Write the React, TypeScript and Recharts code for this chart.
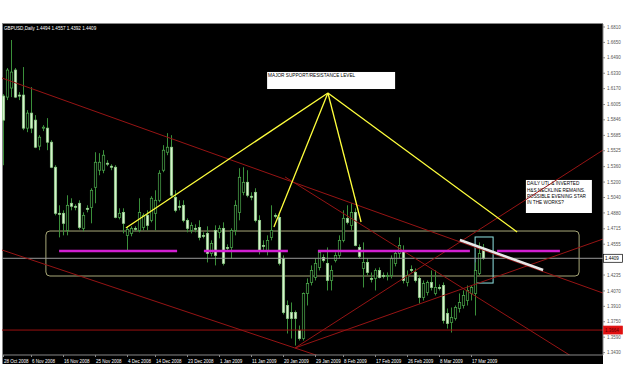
import { ComposedChart, Bar, XAxis, YAxis, ReferenceLine, ReferenceArea, ReferenceDot } from "recharts"

// GBPUSD daily candles
const open = [
  1.6093, 1.6082, 1.6176, 1.6363, 1.6103, 1.6103, 1.576, 1.5916, 1.5843, 1.5573,
  1.576, 1.576, 1.5614, 1.5354, 1.4876, 1.4876, 1.4699, 1.498, 1.4949, 1.498,
  1.472, 1.4928, 1.4938, 1.5146, 1.5323, 1.5323, 1.5396, 1.5365, 1.5354, 1.4834,
  1.4886, 1.4647, 1.4668, 1.472, 1.4699, 1.473, 1.4855, 1.4803, 1.4876, 1.5011,
  1.5323, 1.551, 1.5562, 1.5042, 1.4949, 1.4959, 1.4803, 1.4699, 1.472, 1.473,
  1.4647, 1.4668, 1.446, 1.4699, 1.4678, 1.472, 1.4522, 1.4522, 1.4699, 1.4886,
  1.5094, 1.5198, 1.5053, 1.5094, 1.4803, 1.4543, 1.4491, 1.4626, 1.4855, 1.4834,
  1.4408, 1.3919, 1.3846, 1.3846, 1.3659, 1.3576, 1.4044, 1.4158, 1.421, 1.4314,
  1.4418, 1.4356, 1.4179, 1.4387, 1.4439, 1.4595, 1.4824, 1.4751, 1.4886, 1.4522,
  1.4304, 1.4366, 1.42, 1.42, 1.4283, 1.4231, 1.4221, 1.4231, 1.4356, 1.446,
  1.4491, 1.4158, 1.4293, 1.4262, 1.42, 1.4002, 1.4054, 1.4158, 1.4044, 1.4106,
  1.4127, 1.3836, 1.3742, 1.3784, 1.3888, 1.3919, 1.3971, 1.4044, 1.4044, 1.4252,
  1.4494,
]
const high = [
  1.6113, 1.6384, 1.6675, 1.6384, 1.6134, 1.6394, 1.5947, 1.6186, 1.5895, 1.5687,
  1.5791, 1.5864, 1.5635, 1.5375, 1.4959, 1.4907, 1.5063, 1.5032, 1.4969, 1.5011,
  1.4886, 1.4959, 1.5136, 1.551, 1.55, 1.5531, 1.5427, 1.5385, 1.5375, 1.4928,
  1.4928, 1.4741, 1.4741, 1.4741, 1.5032, 1.4876, 1.4907, 1.5053, 1.5115, 1.5323,
  1.5583, 1.5708, 1.5687, 1.5115, 1.5011, 1.5011, 1.4824, 1.4782, 1.4761, 1.4803,
  1.4678, 1.4741, 1.4595, 1.4751, 1.4751, 1.4782, 1.4553, 1.472, 1.5011, 1.5344,
  1.5354, 1.5323, 1.5094, 1.5136, 1.4855, 1.4595, 1.4647, 1.4959, 1.4876, 1.4865,
  1.4439, 1.3971, 1.395, 1.3867, 1.3711, 1.4054, 1.42, 1.4335, 1.4408, 1.4491,
  1.4449, 1.4522, 1.4335, 1.447, 1.4647, 1.4907, 1.4959, 1.498, 1.4928, 1.4553,
  1.4574, 1.4408, 1.4262, 1.4304, 1.4314, 1.4262, 1.4262, 1.4439, 1.4491, 1.4626,
  1.4543, 1.4283, 1.4335, 1.4304, 1.4231, 1.4179, 1.4179, 1.4283, 1.4283, 1.4137,
  1.4158, 1.3888, 1.3898, 1.3919, 1.4044, 1.4075, 1.4127, 1.4127, 1.4366, 1.4574,
  1.4557,
]
const low = [
  1.5375, 1.6051, 1.6082, 1.6072, 1.6051, 1.5739, 1.5718, 1.5708, 1.5552, 1.5531,
  1.5729, 1.5531, 1.5344, 1.4855, 1.4626, 1.4647, 1.4647, 1.4907, 1.4907, 1.4709,
  1.4689, 1.4886, 1.4772, 1.498, 1.5271, 1.5292, 1.5365, 1.5323, 1.4824, 1.4813,
  1.4668, 1.4491, 1.4637, 1.4689, 1.4678, 1.4699, 1.4699, 1.4782, 1.4699, 1.499,
  1.5302, 1.5479, 1.5042, 1.4886, 1.4907, 1.4782, 1.4678, 1.4668, 1.4678, 1.4595,
  1.4616, 1.4366, 1.4429, 1.4335, 1.4616, 1.4335, 1.4491, 1.4408, 1.4647, 1.4803,
  1.5063, 1.5042, 1.5011, 1.4782, 1.4449, 1.4491, 1.4439, 1.4595, 1.4824, 1.4335,
  1.3826, 1.3628, 1.3576, 1.3503, 1.3555, 1.3555, 1.3919, 1.4127, 1.4179, 1.4283,
  1.4366, 1.4075, 1.4075, 1.4366, 1.4408, 1.4574, 1.4761, 1.4699, 1.4533, 1.4408,
  1.4106, 1.4231, 1.4158, 1.4075, 1.42, 1.42, 1.4179, 1.42, 1.4325, 1.4408,
  1.4148, 1.4117, 1.4262, 1.4158, 1.394, 1.3971, 1.4023, 1.4075, 1.4023, 1.4075,
  1.3732, 1.368, 1.3638, 1.3763, 1.3846, 1.3888, 1.3919, 1.3971, 1.3815, 1.4231,
  1.4392,
]
const close = [
  1.5843, 1.6363, 1.6342, 1.6082, 1.6093, 1.576, 1.5916, 1.576, 1.5562, 1.5666,
  1.577, 1.5614, 1.5354, 1.4876, 1.4865, 1.4772, 1.4959, 1.4949, 1.4938, 1.473,
  1.4855, 1.4917, 1.5115, 1.5406, 1.5406, 1.5479, 1.539, 1.5354, 1.4834, 1.4876,
  1.4772, 1.4709, 1.472, 1.4714, 1.4886, 1.4855, 1.4751, 1.5032, 1.5011, 1.5292,
  1.5531, 1.5562, 1.5063, 1.4907, 1.4938, 1.4803, 1.472, 1.4751, 1.4714, 1.4626,
  1.4641, 1.446, 1.4564, 1.4439, 1.472, 1.4356, 1.4516, 1.4699, 1.4959, 1.525,
  1.5198, 1.5063, 1.5047, 1.4803, 1.4491, 1.4537, 1.4595, 1.4699, 1.4849, 1.4356,
  1.3846, 1.3784, 1.3784, 1.3784, 1.3576, 1.4044, 1.4148, 1.4283, 1.4356, 1.447,
  1.4387, 1.4179, 1.4283, 1.4439, 1.4595, 1.4824, 1.4782, 1.4886, 1.4543, 1.4429,
  1.4366, 1.4262, 1.4195, 1.4283, 1.421, 1.4226, 1.4231, 1.4408, 1.446, 1.4543,
  1.4179, 1.4231, 1.4288, 1.4179, 1.4002, 1.4148, 1.4158, 1.4106, 1.4106, 1.4101,
  1.3763, 1.3732, 1.3794, 1.3898, 1.395, 1.4023, 1.4075, 1.4106, 1.4283, 1.446,
  1.4409,
]

const dateTicks = [0, 7, 15, 23, 31, 38, 46, 54, 62, 70, 78, 85, 93, 101, 109, 117]
const dateLabels = [
  "28 Oct 2008", "6 Nov 2008", "16 Nov 2008", "25 Nov 2008", "4 Dec 2008", "14 Dec 2008",
  "23 Dec 2008", "1 Jan 2009", "11 Jan 2009", "20 Jan 2009", "29 Jan 2009", "8 Feb 2009",
  "17 Feb 2009", "26 Feb 2009", "8 Mar 2009", "17 Mar 2009",
]
// the 1.4395 level sits under the last-price tag, so it is left out
const priceTicks = [
  1.681, 1.665, 1.649, 1.633, 1.617, 1.6005, 1.5846, 1.5685, 1.5525, 1.536, 1.52,
  1.504, 1.488, 1.4715, 1.4555, 1.4235, 1.407, 1.391, 1.375, 1.359, 1.343,
]

const symbol = "GBPUSD,Daily"
const supportPrice = 1.3664
const levelPrice = 1.4484

// hand drawn objects on the chart: [bar index, price]
const redLines = [
  [[-0.375, 1.628], [149.875, 1.4048]],
  [[-0.375, 1.4495], [79.6, 1.3384]],
  [[72.9, 1.3478], [149.9, 1.5533]],
  [[72.9, 1.3478], [149.9, 1.4609]],
  [[70.4, 1.5253], [149.875, 1.3187]],
]
const apex = [81.1, 1.6125]
const yellowEnds = [[30.6, 1.4723], [67.6, 1.4734], [89.4, 1.4786], [128.4, 1.4682]]
const levelSegments = [[13.9, 43.4], [50.1, 71.1], [78.6, 116.6], [123.4, 139.1]]
const necklineLine = [[114.1, 1.4599], [134.9, 1.4287]]
const zoneBox = { x1: 10.6, x2: 143.9, y1: 1.4225, y2: 1.4692 }
const starBox = { x1: 117.9, x2: 122.4, y1: 1.4152, y2: 1.463 }
const notes = [
  { x1: 65.9, x2: 97.9, y1: 1.6166, y2: 1.6343, lines: ["MAJOR SUPPORT/RESISTANCE LEVEL"] },
  {
    x1: 130.6, x2: 147.1, y1: 1.4879, y2: 1.5222,
    lines: ["DAILY UTL & INVERTED", "H&S NECKLINE REMAINS.", "POSSIBLE EVENING STAR", "IN THE WORKS?"],
  },
]

const data = open.map((o, i) => ({ i, open: o, high: high[i], low: low[i], close: close[i] }))
const last = data[data.length - 1]

const X_MIN = -0.375
const X_MAX = 149.875
const FONT = "'Liberation Sans', Arial, sans-serif"

const Candle = (props: any) => {
  const { x, y, width, height, payload } = props
  if (!payload) return null
  const cx = Math.round(x + width / 2) + 0.5
  const k = height / Math.max(payload.high - payload.low, 0.00001)
  const top = y + (payload.high - Math.max(payload.open, payload.close)) * k
  const bottom = y + (payload.high - Math.min(payload.open, payload.close)) * k
  const bull = payload.close > payload.open
  return (
    <g>
      <line x1={cx} x2={cx} y1={y} y2={y + height} stroke="#3a8f3a" strokeWidth={1} />
      <rect
        x={cx - 1.2}
        y={top}
        width={2.4}
        height={Math.max(bottom - top, 1)}
        fill={bull ? "#000" : "#d6f2cc"}
        stroke={bull ? "#4fae4f" : "#8fce88"}
        strokeWidth={0.7}
      />
    </g>
  )
}

const DateTick = ({ x, y, payload }: any) => {
  const idx = dateTicks.indexOf(payload.value)
  return (
    <text x={x + 0.5} y={y + 5.7} fill="#fff" fontSize={4.5} fontFamily={FONT} textAnchor="start">
      {dateLabels[idx]}
    </text>
  )
}

const PriceTick = ({ x, y, payload }: any) => (
  <text x={x + 1} y={y + 1.6} fill="#555" fontSize={4.5} fontFamily={FONT} textAnchor="start">
    {payload.value.toFixed(4)}
  </text>
)

const priceTag = (bg: string, fg: string, text: string) => (p: any) => (
  <g>
    <rect x={p.cx + 0.5} y={p.cy - 4} width={19} height={8} fill={bg} stroke={bg === "#fff" ? "#000" : bg} strokeWidth={0.7} />
    <text x={p.cx + 2} y={p.cy + 1.7} fill={fg} fontSize={4.5} fontFamily={FONT}>
      {text}
    </text>
  </g>
)

const noteShape = (lines: string[]) => (p: any) => (
  <g>
    <rect x={p.x} y={p.y} width={p.width} height={p.height} fill="#fff" />
    <text fontSize={4.7} fontFamily={FONT} fill="#000">
      {lines.map((l, k) => (
        <tspan key={k} x={p.x + 1} y={p.y + 5.5 + k * 6.3}>
          {l}
        </tspan>
      ))}
    </text>
  </g>
)

const outlineShape = (color: string, radius: number) => (p: any) => (
  <rect x={p.x} y={p.y} width={p.width} height={p.height} rx={radius} fill="none" stroke={color} strokeWidth={1} />
)

export default function App() {
  return (
    <div style={{ position: "absolute", left: 0, top: 0, width: 625, height: 391, background: "#fff", overflow: "hidden" }}>
      <div
        style={{
          position: "absolute",
          left: 2,
          top: 23,
          width: 601,
          height: 341,
          background: "#000",
          borderTop: "1px solid #888",
          borderLeft: "1px solid #888",
          boxSizing: "border-box",
        }}
      />
      <div style={{ position: "absolute", left: 0, top: 0 }}>
        <ComposedChart width={625} height={391} data={data} margin={{ top: 24, right: 0, bottom: 27, left: 2 }}>
          <XAxis
            dataKey="i"
            type="number"
            domain={[X_MIN, X_MAX]}
            allowDataOverflow
            ticks={dateTicks}
            tick={<DateTick />}
            tickSize={2}
            tickMargin={0}
            height={9}
            stroke="#888"
            interval={0}
          />
          <YAxis
            orientation="right"
            type="number"
            domain={[1.3405, 1.6841]}
            allowDataOverflow
            ticks={priceTicks}
            tick={<PriceTick />}
            tickSize={2}
            tickMargin={1}
            width={22}
            stroke="#888"
            interval={0}
          />
          <Bar dataKey={(d: any) => [d.low, d.high]} barSize={3} shape={Candle} isAnimationActive={false} />

          <ReferenceLine y={last.close} stroke="#9a9a9a" strokeWidth={1} />
          <ReferenceLine y={supportPrice} stroke="#9a1010" strokeWidth={1} />
          {redLines.map((s, k) => (
            <ReferenceLine
              key={"r" + k}
              segment={[{ x: s[0][0], y: s[0][1] }, { x: s[1][0], y: s[1][1] }]}
              stroke="#961414"
              strokeWidth={1}
              ifOverflow="hidden"
            />
          ))}
          <ReferenceArea {...zoneBox} ifOverflow="visible" shape={outlineShape("#a8a878", 4)} />
          {levelSegments.map((s, k) => (
            <ReferenceLine
              key={"m" + k}
              segment={[{ x: s[0], y: levelPrice }, { x: s[1], y: levelPrice }]}
              stroke="#d21fd2"
              strokeWidth={2.5}
            />
          ))}
          <ReferenceLine
            segment={[{ x: necklineLine[0][0], y: necklineLine[0][1] }, { x: necklineLine[1][0], y: necklineLine[1][1] }]}
            stroke="#e8e8e8"
            strokeWidth={2.5}
          />
          <ReferenceArea {...starBox} ifOverflow="visible" shape={outlineShape("#8fe3e3", 0)} />
          {yellowEnds.map((e, k) => (
            <ReferenceLine
              key={"y" + k}
              segment={[{ x: apex[0], y: apex[1] }, { x: e[0], y: e[1] }]}
              stroke="#ffff3c"
              strokeWidth={1.3}
            />
          ))}
          {notes.map((n, k) => (
            <ReferenceArea key={"n" + k} x1={n.x1} x2={n.x2} y1={n.y1} y2={n.y2} ifOverflow="visible" shape={noteShape(n.lines)} />
          ))}
          <ReferenceDot x={X_MAX} y={last.close} r={0} ifOverflow="visible" shape={priceTag("#fff", "#000", last.close.toFixed(4))} />
          <ReferenceDot x={X_MAX} y={supportPrice} r={0} ifOverflow="visible" shape={priceTag("#e01010", "#5a0000", supportPrice.toFixed(4))} />
        </ComposedChart>
      </div>
      <svg width={625} height={40} style={{ position: "absolute", left: 0, top: 0, pointerEvents: "none" }}>
        <text x={4} y={30} fill="#fff" fontSize={4.6} fontFamily={FONT}>
          {`${symbol}  ${last.open.toFixed(4)} ${last.high.toFixed(4)} ${last.low.toFixed(4)} ${last.close.toFixed(4)}`}
        </text>
      </svg>
    </div>
  )
}
